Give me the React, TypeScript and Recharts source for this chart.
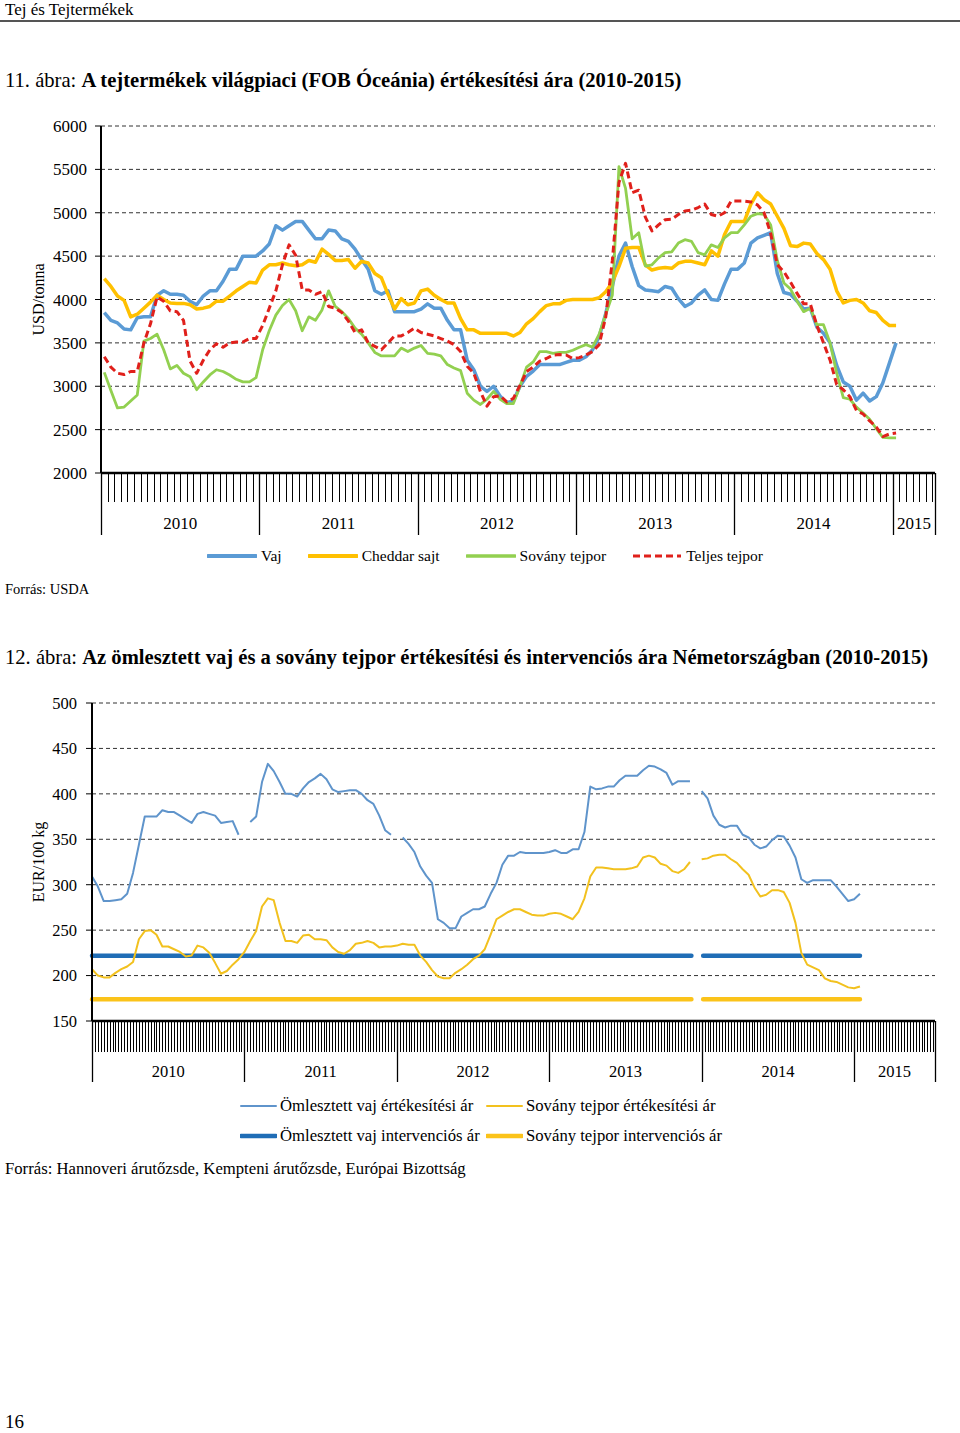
import React from "react";
import { LineChart, Line, XAxis, YAxis, CartesianGrid } from "recharts";

const SERIF = '"Liberation Serif", "Times New Roman", serif';

// 11. ábra: FOB Óceánia, USD/tonna, kéthetes adatok (24 / év)
const years = ["2010", "2011", "2012", "2013", "2014", "2015"];

const vaj = [
  3850, 3760, 3730, 3660, 3650, 3790, 3800, 3800, 4050, 4100, 4060, 4060, 4050, 3980, 3940, 4040, 4100, 4100, 4210, 4350, 4350, 4500, 4500, 4500,
  4560, 4640, 4850, 4800, 4850, 4900, 4900, 4800, 4700, 4700, 4800, 4790, 4700, 4670, 4580, 4460, 4350, 4100, 4060, 4100, 3860, 3860, 3860, 3860,
  3890, 3950, 3900, 3900, 3760, 3650, 3650, 3300, 3190, 3000, 2940, 3000, 2885, 2810, 2830, 3000, 3115, 3175, 3250, 3250, 3250, 3250, 3275, 3300,
  3300, 3340, 3420, 3570, 3840, 4150, 4500, 4650, 4380, 4160, 4110, 4100, 4090, 4150, 4130, 4010, 3920, 3960, 4050, 4110, 4000, 3990, 4180, 4350,
  4350, 4420, 4650, 4710, 4740, 4770, 4300, 4080, 4060, 3980, 3890, 3900, 3680, 3610, 3500, 3240, 3050, 3000, 2840, 2920, 2830, 2880, 3040, 3270,
  3500,
];

const cheddar = [
  4240, 4150, 4040, 3990, 3800, 3830, 3900, 3970, 4050, 4000, 3960, 3955, 3955, 3940, 3890, 3900, 3920, 3980, 3980, 4040, 4100, 4150, 4200, 4190,
  4340, 4400, 4400, 4420, 4400, 4390, 4400, 4450, 4430, 4580, 4520, 4450, 4450, 4460, 4360, 4440, 4420, 4300, 4250, 4060, 3890, 4010, 3940, 3960,
  4100, 4120, 4050, 4000, 3960, 3960, 3780, 3650, 3650, 3610, 3610, 3610, 3610, 3610, 3580, 3620, 3720, 3780, 3860, 3930, 3950, 3950, 3990, 4000,
  4000, 4000, 4000, 4020, 4090, 4200, 4380, 4590, 4600, 4600, 4400, 4340, 4360, 4370, 4360, 4420, 4440, 4440, 4420, 4400, 4560, 4500, 4750, 4900,
  4900, 4900, 5100, 5230, 5150, 5100, 4960, 4820, 4620, 4610, 4650, 4640, 4530, 4460, 4350, 4100, 3960, 3990, 4000, 3960, 3870, 3850, 3760, 3700,
  3700,
];

const sovany = [
  3160, 2950, 2750, 2760, 2830, 2900, 3520, 3550, 3600, 3420, 3200, 3240, 3150, 3110, 2960, 3050, 3130, 3190, 3170, 3130, 3080, 3050, 3050, 3100,
  3420, 3640, 3820, 3930, 4000, 3870, 3640, 3800, 3760, 3880, 4100, 3920, 3860, 3780, 3670, 3600, 3500, 3390, 3350, 3350, 3350, 3440, 3400, 3440,
  3470, 3380, 3370, 3350, 3250, 3210, 3180, 2920, 2840, 2790, 2850, 2940, 2850, 2800, 2800, 3000, 3220, 3280, 3400, 3400, 3380, 3390, 3390, 3415,
  3450, 3480, 3450, 3600, 3830, 4050, 5530, 5280, 4700, 4770, 4385, 4400, 4480, 4540, 4550, 4650, 4690, 4670, 4540, 4515, 4630, 4600, 4710, 4770,
  4770, 4860, 4960, 4990, 4980, 4860, 4450, 4190, 4120, 3980, 3860, 3900, 3710, 3710, 3500, 3150, 2870, 2850, 2760, 2690, 2620, 2510, 2410, 2405,
  2405,
];

const teljes = [
  3340, 3220, 3150, 3135, 3170, 3170, 3500, 3720, 4030, 3980, 3870, 3860, 3760, 3290, 3150, 3300, 3420, 3490, 3450, 3500, 3510, 3510, 3550, 3550,
  3700, 3900, 4100, 4400, 4630, 4510, 4110, 4110, 4060, 4090, 3920, 3900, 3850, 3750, 3620, 3650, 3500, 3460, 3420, 3500, 3580, 3580, 3620, 3670,
  3620, 3600, 3580, 3550, 3520, 3480, 3400, 3230, 3150, 2940, 2770, 2880, 2890, 2820, 2860, 3010, 3170, 3220, 3290, 3320, 3360, 3365, 3360, 3320,
  3330, 3360, 3400, 3480, 3800, 4450, 5350, 5570, 5230, 5260, 4950, 4790, 4860, 4920, 4925, 4980, 5020, 5030, 5060, 5100, 4980, 4960, 5000, 5135,
  5135, 5135, 5125, 5090, 5000, 4760, 4400, 4320, 4200, 4070, 3950, 3950, 3700, 3500, 3300, 3020, 2960, 2880, 2720, 2680, 2600, 2530, 2420, 2450,
  2460,
];

// 12. ábra: EUR/100 kg, kéthetes adatok (26 / év), null = hiányzó adat
const vajErtekesitesi = [
  309, 298, 282, 282, 283, 284, 290, 313, 344, 375, 375, 375, 382, 380, 380, 376, 372, 368, 378, 380, 378, 376, 368, 369, 370, 355,
  null, 369, 375, 413, 433, 425, 413, 400, 400, 397, 406, 413, 417, 422, 416, 405, 402, 403, 404, 404, 400, 393, 389, 376, 360, 355,
  null, 352, 345, 336, 320, 310, 302, 262, 258, 252, 252, 265, 269, 273, 273, 276, 290, 302, 322, 332, 332, 336, 335, 335, 335, 335,
  336, 338, 335, 335, 339, 339, 358, 408, 405, 406, 408, 408, 415, 420, 420, 420, 426, 431, 430, 427, 423, 410, 414, 414, 414, null,
  403, 395, 376, 366, 363, 365, 365, 355, 352, 344, 340, 342, 349, 354, 353, 343, 330, 306, 302, 305, 305, 305, 305, 298, 290, 282,
  284, 290,
];

const smpErtekesitesi = [
  207, 200, 198, 198, 203, 207, 210, 215, 240, 249, 250, 245, 232, 232, 229, 226, 221, 222, 233, 231, 225, 214, 202, 205, 212, 218,
  226, 238, 249, 276, 285, 283, 258, 238, 238, 236, 244, 245, 240, 240, 239, 231, 226, 224, 228, 235, 236, 238, 236, 231, 232, 232,
  233, 235, 234, 234, 222, 215, 206, 199, 197, 197, 203, 207, 212, 218, 222, 229, 245, 262, 266, 270, 273, 273, 270, 267, 266, 266,
  268, 269, 268, 265, 262, 270, 285, 309, 319, 319, 318, 317, 317, 317, 318, 320, 330, 332, 330, 323, 321, 315, 313, 317, 325, null,
  328, 329, 332, 333, 333, 328, 324, 317, 311, 297, 287, 289, 294, 294, 292, 280, 258, 225, 212, 209, 206, 197, 194, 193, 190, 187,
  186, 188,
];

const interventionWeeks = [0, 204.5, 206.5, 208.5, 262];
const vajIntervencios = [221.75, 221.75, null, 221.75, 221.75];
const smpIntervencios = [174, 174, null, 174, 174];

const data1 = vaj.map((v, i) => ({ t: i + 0.5, vaj: v, cheddar: cheddar[i], sovany: sovany[i], teljes: teljes[i] }));
const data2 = vajErtekesitesi.map((v, k) => ({ t: 2 * k, vaj: v, smp: smpErtekesitesi[k] }));
const dataInt = interventionWeeks.map((t, i) => ({ t, vaj: vajIntervencios[i], smp: smpIntervencios[i] }));

const END1 = 126.4;
const ticks1 = [...Array.from({ length: 127 }, (_, i) => i), END1];
const yearMid1 = [12, 36, 60, 84, 108, 123.2];

const END2 = 287.6;
const ticks2 = [...Array.from({ length: 288 }, (_, i) => i), END2];
const yearMid2 = [26, 78, 130, 182, 234, 273.8];

const makeTick = (step: number, end: number, shortLen: number, longLen: number) => (props: any) => {
  const { x, y, payload } = props;
  const v = payload.value;
  const isYear = v % step === 0 || v === end;
  const xx = Math.round(x) + 0.5;
  return <line x1={xx} x2={xx} y1={y} y2={y + (isYear ? longLen : shortLen)} stroke="#000" strokeWidth={isYear ? 1.3 : 1} />;
};

const yLabel = (text: string) => (props: any) => {
  const vb = props.viewBox;
  const cx = vb.x + 38;
  const cy = vb.y + vb.height / 2;
  return (
    <text x={cx} y={cy} transform={`rotate(-90 ${cx} ${cy})`} textAnchor="middle" dominantBaseline="central" fontFamily={SERIF} fontSize={16} fill="#000">
      {text}
    </text>
  );
};

const tickFont = { fontFamily: SERIF, fontSize: 17, fill: "#000" };

function LegendLine({ color, width, thick, dash }: { color: string; width: number; thick: number; dash?: string }) {
  return (
    <svg width={width} height={12} style={{ display: "block" }}>
      <line x1={1} x2={width - 1} y1={6} y2={6} stroke={color} strokeWidth={thick} strokeDasharray={dash} strokeLinecap={dash ? "butt" : "round"} />
    </svg>
  );
}

function WorldPrices() {
  return (
    <LineChart width={960} height={433} data={data1} margin={{ top: 16, right: 25, bottom: 0, left: 0 }}>
      <CartesianGrid vertical={false} stroke="#333" strokeDasharray="4 3" />
      <XAxis dataKey="t" type="number" domain={[0, END1]} ticks={ticks1} interval={0} height={30} tickSize={0} tickMargin={0}
        tickLine={false} axisLine={{ stroke: "#000", strokeWidth: 2.5 }} tick={makeTick(24, END1, 29, 62)} />
      <XAxis xAxisId="yr" dataKey="t" type="number" domain={[0, END1]} ticks={yearMid1} interval={0} height={40} tickSize={0} tickMargin={14}
        tickLine={false} axisLine={false} tick={tickFont} tickFormatter={(_v: number, i: number) => years[i]} />
      <YAxis domain={[2000, 6000]} ticks={[2000, 2500, 3000, 3500, 4000, 4500, 5000, 5500, 6000]} width={101} tickSize={6} tickMargin={8}
        axisLine={{ stroke: "#000", strokeWidth: 2 }} tickLine={{ stroke: "#000" }} tick={tickFont} label={yLabel("USD/tonna")} />
      <Line dataKey="vaj" stroke="#5B9BD5" strokeWidth={3.5} dot={false} isAnimationActive={false} strokeLinejoin="round" />
      <Line dataKey="cheddar" stroke="#FFC000" strokeWidth={3.5} dot={false} isAnimationActive={false} strokeLinejoin="round" />
      <Line dataKey="sovany" stroke="#92D050" strokeWidth={2.8} dot={false} isAnimationActive={false} strokeLinejoin="round" />
      <Line dataKey="teljes" stroke="#E0201B" strokeWidth={3} strokeDasharray="7 4" dot={false} isAnimationActive={false} strokeLinejoin="round" />
    </LineChart>
  );
}

function GermanPrices() {
  return (
    <LineChart width={960} height={402} data={data2} margin={{ top: 13, right: 25, bottom: 0, left: 0 }}>
      <CartesianGrid vertical={false} stroke="#333" strokeDasharray="4 3" />
      <XAxis dataKey="t" type="number" domain={[0, END2]} ticks={ticks2} interval={0} height={31} tickSize={0} tickMargin={0}
        tickLine={false} axisLine={{ stroke: "#000", strokeWidth: 2.5 }} tick={makeTick(52, END2, 31, 61)} />
      <XAxis xAxisId="yr" dataKey="t" type="number" domain={[0, END2]} ticks={yearMid2} interval={0} height={40} tickSize={0} tickMargin={13}
        tickLine={false} axisLine={false} tick={{ ...tickFont, fontSize: 16.5 }} tickFormatter={(_v: number, i: number) => years[i]} />
      <YAxis domain={[150, 500]} ticks={[150, 200, 250, 300, 350, 400, 450, 500]} width={92} tickSize={6} tickMargin={9}
        axisLine={{ stroke: "#000", strokeWidth: 2 }} tickLine={{ stroke: "#000" }} tick={{ ...tickFont, fontSize: 16.5 }} label={yLabel("EUR/100 kg")} />
      <Line data={dataInt} dataKey="vaj" stroke="#1F6DB6" strokeWidth={4.5} strokeLinecap="round" dot={false} isAnimationActive={false} />
      <Line data={dataInt} dataKey="smp" stroke="#FBC31A" strokeWidth={4.5} strokeLinecap="round" dot={false} isAnimationActive={false} />
      <Line dataKey="vaj" stroke="#5F94CB" strokeWidth={2} dot={false} isAnimationActive={false} strokeLinejoin="round" />
      <Line dataKey="smp" stroke="#F2C11E" strokeWidth={2} dot={false} isAnimationActive={false} strokeLinejoin="round" />
    </LineChart>
  );
}

const text = (top: number, size: number, extra: React.CSSProperties = {}): React.CSSProperties => ({
  position: "absolute", left: 5, top, fontSize: size, lineHeight: `${Math.round(size * 1.25)}px`, fontFamily: SERIF, color: "#000", whiteSpace: "nowrap", ...extra,
});

export default function App() {
  const legend1 = [
    { label: "Vaj", color: "#5B9BD5", thick: 4 },
    { label: "Cheddar sajt", color: "#FFC000", thick: 4 },
    { label: "Sovány tejpor", color: "#92D050", thick: 3.5 },
    { label: "Teljes tejpor", color: "#E0201B", thick: 3, dash: "7 4" },
  ];
  const legend2 = [
    { label: "Ömlesztett vaj értékesítési ár", color: "#5F94CB", thick: 2 },
    { label: "Sovány tejpor értékesítési ár", color: "#F2C11E", thick: 2 },
    { label: "Ömlesztett vaj intervenciós ár", color: "#1F6DB6", thick: 4.5 },
    { label: "Sovány tejpor intervenciós ár", color: "#FBC31A", thick: 4.5 },
  ];
  return (
    <div style={{ position: "absolute", left: 0, top: 0, width: 960, height: 1433, background: "#fff", overflow: "hidden", fontFamily: SERIF }}>
      <div style={text(-1, 17)}>Tej és Tejtermékek</div>
      <div style={{ position: "absolute", left: 0, top: 20, width: 960, height: 2, background: "#555" }} />

      <div style={text(67, 20.6)}>
        11. ábra: <b>A tejtermékek világpiaci (FOB Óceánia) értékesítési ára (2010-2015)</b>
      </div>
      <div style={{ position: "absolute", left: 0, top: 110 }}>
        <WorldPrices />
      </div>
      <div style={{ position: "absolute", left: 207, top: 546, height: 20, display: "flex", alignItems: "center", fontSize: 15.5 }}>
        {legend1.map((it) => (
          <div key={it.label} style={{ display: "flex", alignItems: "center", marginRight: 26 }}>
            <LegendLine color={it.color} width={50} thick={it.thick} dash={it.dash} />
            <span style={{ marginLeft: 4 }}>{it.label}</span>
          </div>
        ))}
      </div>
      <div style={text(580, 14.5)}>Forrás: USDA</div>

      <div style={text(644, 20.6)}>
        12. ábra: <b>Az ömlesztett vaj és a sovány tejpor értékesítési és intervenciós ára Németországban (2010-2015)</b>
      </div>
      <div style={{ position: "absolute", left: 0, top: 690 }}>
        <GermanPrices />
      </div>
      <div style={{ position: "absolute", left: 240, top: 1095, display: "grid", gridTemplateColumns: "246px auto", rowGap: 8, fontSize: 16.7 }}>
        {legend2.map((it) => (
          <div key={it.label} style={{ display: "flex", alignItems: "center", height: 22 }}>
            <LegendLine color={it.color} width={37} thick={it.thick} />
            <span style={{ marginLeft: 3 }}>{it.label}</span>
          </div>
        ))}
      </div>
      <div style={text(1158, 16.7)}>Forrás: Hannoveri árutőzsde, Kempteni árutőzsde, Európai Bizottság</div>

      <div style={text(1410, 19)}>16</div>
    </div>
  );
}
